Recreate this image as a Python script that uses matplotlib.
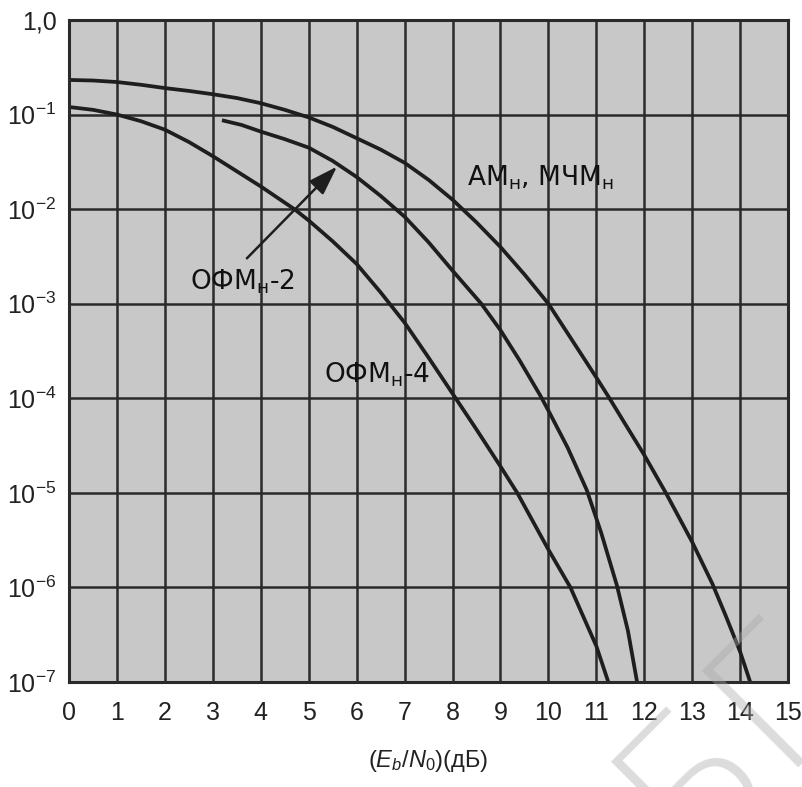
import numpy as np
import matplotlib.pyplot as plt
from matplotlib.ticker import NullLocator

plt.rcParams['mathtext.fontset'] = 'custom'
plt.rcParams['mathtext.rm'] = 'Liberation Sans'
plt.rcParams['mathtext.it'] = 'Liberation Sans:italic'

# readings from the picture: Eb/N0 (dB) and log10 of error probability
am_x = [0, 0.5, 1, 1.5, 2, 2.5, 3, 3.5, 4, 4.5, 5, 5.5, 6, 6.5, 7, 7.5, 8, 8.5, 9, 9.5,
        10, 10.5, 11, 11.25, 11.6, 12, 12.45, 13, 13.42, 13.7, 14, 14.21]
am_lg = [-0.634, -0.64, -0.656, -0.685, -0.72, -0.75, -0.785, -0.825, -0.88, -0.95, -1.03,
         -1.13, -1.25, -1.37, -1.51, -1.69, -1.9, -2.14, -2.4, -2.69, -3.0, -3.39, -3.78, -3.98,
         -4.27, -4.6, -5.0, -5.52, -5.96, -6.3, -6.68, -7.0]

ofm2_x = [3.19, 3.6, 4, 4.5, 5, 5.5, 6, 6.5, 7, 7.5, 8, 8.6, 9, 9.4, 9.83, 10, 10.4, 10.8,
          11.1, 11.43, 11.66, 11.85]
ofm2_lg = [-1.06, -1.11, -1.18, -1.26, -1.35, -1.49, -1.66, -1.86, -2.08, -2.35, -2.65,
           -3.0, -3.28, -3.6, -3.97, -4.13, -4.52, -4.97, -5.42, -5.98, -6.46, -7.0]

ofm4_x = [0, 0.5, 1, 1.5, 2, 2.5, 3, 3.5, 4, 4.7, 5, 5.5, 6, 6.5, 7, 7.5, 8, 8.5, 9, 9.35,
          10, 10.46, 11, 11.25]
ofm4_lg = [-0.92, -0.95, -1.0, -1.07, -1.16, -1.29, -1.44, -1.6, -1.76, -2.0, -2.12, -2.34,
           -2.58, -2.88, -3.2, -3.57, -3.95, -4.33, -4.72, -5.0, -5.6, -6.0, -6.62, -7.0]

xticks = list(range(0, 16))
ytick_exp = [-7, -6, -5, -4, -3, -2, -1, 0]
ytick_labels = [r'$\mathregular{10^{-7}}$', r'$\mathregular{10^{-6}}$',
                r'$\mathregular{10^{-5}}$', r'$\mathregular{10^{-4}}$',
                r'$\mathregular{10^{-3}}$', r'$\mathregular{10^{-2}}$',
                r'$\mathregular{10^{-1}}$', '1,0']

fig = plt.figure(figsize=(8.03, 7.87), dpi=100)
ax = fig.add_axes([0.086, 0.1334, 0.8954, 0.8412])
ax.set_yscale('log')
ax.set_xlim(0, 15)
ax.set_ylim(1e-7, 1)
ax.set_facecolor('#c8c8c8')

ax.set_xticks(xticks)
ax.set_yticks([10.0 ** e for e in ytick_exp])
ax.set_yticklabels(ytick_labels)
ax.yaxis.set_minor_locator(NullLocator())
ax.tick_params(length=0, labelsize=18, labelcolor='#222222')
ax.tick_params(axis='x', pad=14)
ax.tick_params(axis='y', pad=9)
for lab in ax.get_xticklabels() + ax.get_yticklabels():
    lab.set_fontfamily('Liberation Sans')

ax.grid(True, color='#2a2a2a', lw=1.8)
ax.set_axisbelow(True)
for sp in ax.spines.values():
    sp.set_linewidth(2.2)
    sp.set_color('#2a2a2a')

curve = dict(color='#1e1e1e', lw=2.7, solid_capstyle='butt')
ax.plot(am_x, 10.0 ** np.array(am_lg), **curve)
ax.plot(ofm2_x, 10.0 ** np.array(ofm2_lg), **curve)
ax.plot(ofm4_x, 10.0 ** np.array(ofm4_lg), **curve)

ax.annotate('', xy=(5.59, 10 ** -1.55), xytext=(3.71, 10 ** -2.52),
            arrowprops=dict(arrowstyle='-|>,head_length=0.9,head_width=0.3',
                            color='#1e1e1e', lw=1.8, mutation_scale=20,
                            shrinkA=0, shrinkB=0))

lbl = dict(ha='center', va='center', fontsize=19, fontfamily='DejaVu Sans', color='#111111')
ax.text(3.61, 10 ** -2.77, 'ОФМ$_{\\mathregular{н}}$-2', **lbl)
ax.text(6.43, 10 ** -3.75, 'ОФМ$_{\\mathregular{н}}$-4', **lbl)
ax.text(9.83, 10 ** -1.67, 'АМ$_{\\mathregular{н}}$, МЧМ$_{\\mathregular{н}}$', **lbl)

ax.set_xlabel(r'$(E_b/N_0)$(дБ)', fontsize=17, fontfamily='Liberation Sans',
              labelpad=16, color='#222222')

# faint watermark in the lower right corner
fig.text(0.91, 0.06, 'БГ', rotation=45, fontsize=135, color='#a8a8a8', alpha=0.4,
         ha='center', va='center', fontfamily='DejaVu Sans', fontweight='light', zorder=10)

fig.savefig('out.png', dpi=100)
